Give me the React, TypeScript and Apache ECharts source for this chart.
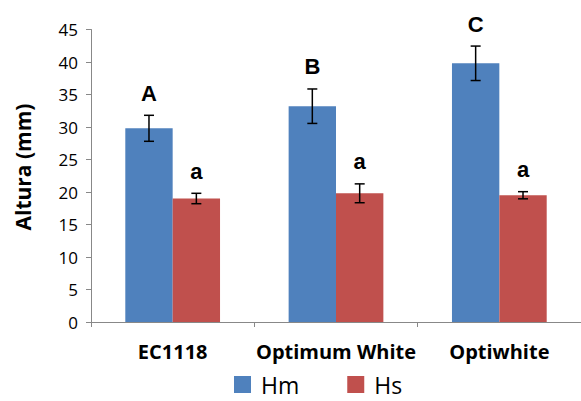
import React, { useEffect, useRef } from "react";
import * as echarts from "echarts";

const categories = ["EC1118", "Optimum White", "Optiwhite"];
const hmValues = [29.8, 33.2, 39.8];
const hsValues = [19.0, 19.8, 19.5];
const hmErrors = [2.0, 2.65, 2.65];
const hsErrors = [0.8, 1.45, 0.55];
const hmLetters = ["A", "B", "C"];
const hsLetters = ["a", "a", "a"];
const yTicks = { min: 0, max: 45, interval: 5 };

const BAR_CAT_GAP = 0.42;

function makeErrSeries(name: string, values: number[], errs: number[], letters: string[], sign: number) {
  return {
    type: "custom",
    name: name + "-err",
    z: 10,
    silent: true,
    data: values.map((v, i) => [i, v, errs[i]]),
    renderItem: (params: any, api: any) => {
      const idx = api.value(0);
      const val = api.value(1);
      const err = api.value(2);
      const top = api.coord([idx, val + err]);
      const bot = api.coord([idx, val - err]);
      const band = api.size([1, 0])[0];
      const bw = (band * (1 - BAR_CAT_GAP)) / 2;
      const x = top[0] + (sign * bw) / 2;
      const cap = 5;
      const st = { stroke: "#000", lineWidth: 1.5 };
      return {
        type: "group",
        children: [
          { type: "line", shape: { x1: x, y1: top[1], x2: x, y2: bot[1] }, style: st },
          { type: "line", shape: { x1: x - cap, y1: top[1], x2: x + cap, y2: top[1] }, style: st },
          { type: "line", shape: { x1: x - cap, y1: bot[1], x2: x + cap, y2: bot[1] }, style: st },
          {
            type: "text",
            x: x,
            y: top[1] - 11,
            style: {
              text: letters[params.dataIndex],
              fill: "#000",
              font: "bold 22px 'Liberation Sans', Arial, sans-serif",
              align: "center",
              verticalAlign: "bottom",
            },
          },
        ],
      };
    },
  };
}

export default function App() {
  const ref = useRef<HTMLDivElement>(null);
  useEffect(() => {
    if (!ref.current) return;
    const chart = echarts.init(ref.current, null, { renderer: "svg" });
    chart.setOption({
      animation: false,
      backgroundColor: "#fff",
      grid: { left: 91, top: 29.5, width: 495, height: 292.5 },
      legend: {
        data: ["Hm", "Hs"],
        left: 229,
        top: 368,
        itemWidth: 17,
        itemHeight: 17,
        itemGap: 48,
        icon: "rect",
        textStyle: {
          fontSize: 23,
          fontFamily: "'Open Sans', sans-serif",
          color: "#000",
          lineHeight: 22,
          padding: [0, 0, 0, 5],
        },
      },
      graphic: [
        {
          type: "text",
          x: 23,
          y: 167,
          rotation: Math.PI / 2,
          style: {
            text: "Altura (mm)",
            font: "bold 21px 'Open Sans', sans-serif",
            fill: "#000",
            align: "center",
            verticalAlign: "middle",
          },
        },
      ],
      xAxis: {
        type: "category",
        data: categories,
        axisLine: { lineStyle: { color: "#888", width: 1 } },
        axisTick: { show: true, length: 5, interval: 0, lineStyle: { color: "#888" } },
        axisLabel: {
          interval: 0,
          margin: 19,
          fontSize: 20,
          fontWeight: "bold",
          fontFamily: "'Open Sans', sans-serif",
          color: "#000",
        },
      },
      yAxis: {
        type: "value",
        min: yTicks.min,
        max: yTicks.max,
        interval: yTicks.interval,
        splitLine: { show: false },
        axisLine: { show: true, lineStyle: { color: "#888", width: 1 } },
        axisTick: { show: true, length: 5, lineStyle: { color: "#888" } },
        axisLabel: {
          margin: 13,
          fontSize: 17,
          fontFamily: "'Open Sans', sans-serif",
          color: "#000",
        },
      },
      series: [
        {
          type: "bar",
          name: "Hm",
          data: hmValues,
          itemStyle: { color: "#4F81BD" },
          barGap: "0%",
          barCategoryGap: BAR_CAT_GAP * 100 + "%",
        },
        {
          type: "bar",
          name: "Hs",
          data: hsValues,
          itemStyle: { color: "#C0504D" },
          barGap: "0%",
          barCategoryGap: BAR_CAT_GAP * 100 + "%",
        },
        makeErrSeries("Hm", hmValues, hmErrors, hmLetters, -1),
        makeErrSeries("Hs", hsValues, hsErrors, hsLetters, 1),
      ],
    });
    return () => chart.dispose();
  }, []);
  return (
    <div
      ref={ref}
      style={{ position: "fixed", left: 0, top: 0, width: 581, height: 401 }}
    />
  );
}
